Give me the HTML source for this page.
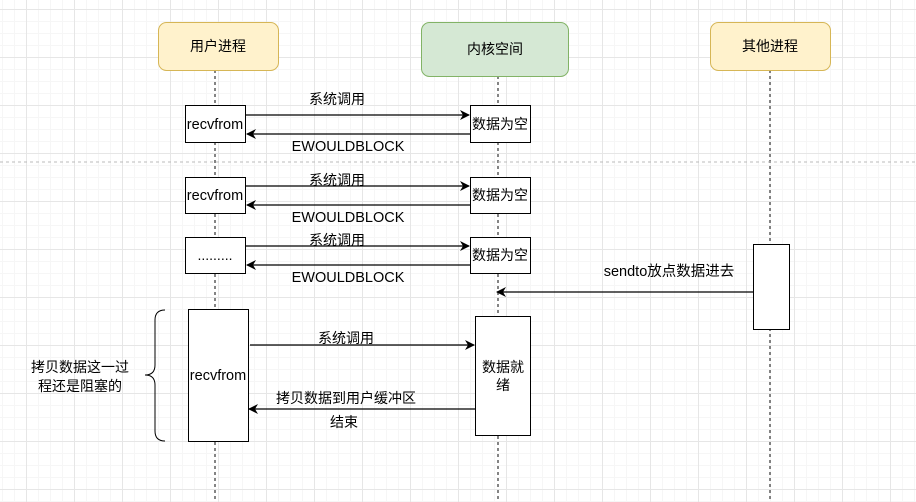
<!DOCTYPE html>
<html><head><meta charset="utf-8"><style>
body{margin:0;width:916px;height:502px;overflow:hidden;background:#fff;
background-image:linear-gradient(#e6e6e6 1px,transparent 1px),linear-gradient(90deg,#e6e6e6 1px,transparent 1px),linear-gradient(#f6f6f6 1px,transparent 1px),linear-gradient(90deg,#f6f6f6 1px,transparent 1px);
background-size:48px 48px,48px 48px,12px 12px,12px 12px;background-position:0 9px,26px 0,0 9px,26px 0;}
svg{position:absolute;left:0;top:0}
text{font-family:"Liberation Sans","Noto Sans CJK SC",sans-serif;font-size:14px;fill:#000}
text.l{font-size:14.5px}
</style></head><body>
<svg width="916" height="502" viewBox="0 0 916 502">
<defs><marker id="a" markerWidth="10" markerHeight="10" refX="9" refY="5" orient="auto" markerUnits="userSpaceOnUse"><path d="M0,0 L10,5 L0,10 L3,5 Z" fill="#000"/></marker></defs>
<g stroke="#333" stroke-dasharray="3,3" stroke-width="1.2">
<line x1="215" y1="70" x2="215" y2="502"/><line x1="498" y1="76" x2="498" y2="502"/><line x1="770" y1="70" x2="770" y2="502"/>
</g>
<line x1="0" y1="162" x2="916" y2="162" stroke="#bbb" stroke-dasharray="3,3"/>
<rect x="158.5" y="22.5" width="120" height="48" rx="8" fill="#fff2cc" stroke="#d6b656"/>
<text x="218" y="51" text-anchor="middle">用户进程</text>
<rect x="421.5" y="22.5" width="147" height="54" rx="8" fill="#d5e8d4" stroke="#82b366"/>
<text x="495" y="54" text-anchor="middle">内核空间</text>
<rect x="710.5" y="22.5" width="120" height="48" rx="8" fill="#fff2cc" stroke="#d6b656"/>
<text x="770" y="51" text-anchor="middle">其他进程</text>
<g fill="#fff" stroke="#000">
<rect x="185.5" y="105.5" width="60" height="37"/><rect x="470.5" y="105.5" width="60" height="37"/>
<rect x="185.5" y="177.5" width="60" height="36"/><rect x="470.5" y="177.5" width="60" height="36"/>
<rect x="185.5" y="237.5" width="60" height="36"/><rect x="470.5" y="237.5" width="60" height="36"/>
<rect x="753.5" y="244.5" width="36" height="85"/>
<rect x="188.5" y="309.5" width="60" height="132"/><rect x="475.5" y="316.5" width="55" height="119"/>
</g>
<g stroke="#000" stroke-width="1.2" marker-end="url(#a)">
<line x1="246" y1="115" x2="469" y2="115"/><line x1="470" y1="134" x2="247" y2="134"/>
<line x1="246" y1="186" x2="469" y2="186"/><line x1="470" y1="205" x2="247" y2="205"/>
<line x1="246" y1="246" x2="469" y2="246"/><line x1="470" y1="265" x2="247" y2="265"/>
<line x1="753" y1="292" x2="497" y2="292"/>
<line x1="250" y1="345" x2="474" y2="345"/><line x1="475" y1="409" x2="249" y2="409"/>
</g>
<path d="M165,310 Q155,310 155,320 L155,365 Q155,375 145,375 Q155,375 155,385 L155,431 Q155,441 165,441" fill="none" stroke="#000"/>
<text class="l" x="215" y="129" text-anchor="middle">recvfrom</text><text x="500" y="129" text-anchor="middle">数据为空</text>
<text class="l" x="215" y="200" text-anchor="middle">recvfrom</text><text x="500" y="200" text-anchor="middle">数据为空</text>
<text x="215" y="260" text-anchor="middle">.........</text><text x="500" y="260" text-anchor="middle">数据为空</text>
<text x="337" y="104" text-anchor="middle">系统调用</text><text class="l" x="348" y="151" text-anchor="middle">EWOULDBLOCK</text>
<text x="337" y="185" text-anchor="middle">系统调用</text><text class="l" x="348" y="222" text-anchor="middle">EWOULDBLOCK</text>
<text x="337" y="245" text-anchor="middle">系统调用</text><text class="l" x="348" y="282" text-anchor="middle">EWOULDBLOCK</text>
<text class="l" x="669" y="276" text-anchor="middle">sendto放点数据进去</text>
<text class="l" x="218" y="380" text-anchor="middle">recvfrom</text>
<text x="503" y="372" text-anchor="middle">数据就</text><text x="503" y="390" text-anchor="middle">绪</text>
<text x="346" y="343" text-anchor="middle">系统调用</text>
<text x="346" y="403" text-anchor="middle">拷贝数据到用户缓冲区</text>
<text x="344" y="427" text-anchor="middle">结束</text>
<text x="80" y="372" text-anchor="middle">拷贝数据这一过</text>
<text x="80" y="391" text-anchor="middle">程还是阻塞的</text>
</svg>
</body></html>
